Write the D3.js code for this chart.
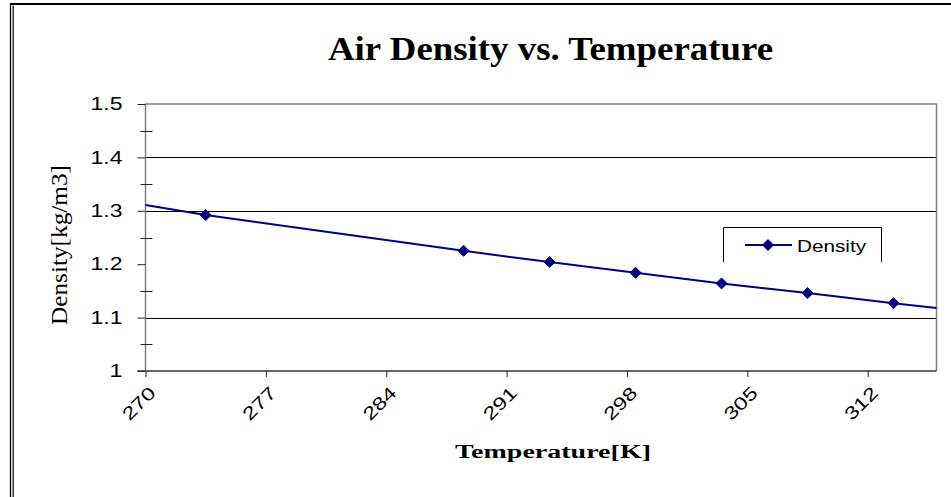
<!DOCTYPE html>
<html lang="en">
<head>
    <meta charset="UTF-8">
    <title>Air Density vs. Temperature</title>
    <script src="https://cdn.jsdelivr.net/npm/d3@7"></script>
    <style>
        body { margin: 0; background: #fff; }
        svg { display: block; }
    </style>
</head>
<body>
<script>

    // Data ////////////////////////////////////
    var temperature = [273.5, 288.5, 293.5, 298.5, 303.5, 308.5, 313.5];
    var density = [1.292, 1.225, 1.204, 1.184, 1.164, 1.146, 1.127];
    // line runs on to both edges of the plot
    var lineEdgeTemp = [270, 316];
    var lineEdgeDensity = [1.311, 1.118];

    var xTicks = [270, 277, 284, 291, 298, 305, 312];
    var yTicks = [1, 1.1, 1.2, 1.3, 1.4, 1.5];
    var yMinorTicks = [1.05, 1.15, 1.25, 1.35, 1.45];
    var gridValues = [1.1, 1.3, 1.4];

    var width = 951;
    var height = 497;
    var plot = {left: 145.5, right: 936.5, top: 104, bottom: 371};
    var navy = '#000080';

    var svg = d3.select('body').append('svg')
            .attr('width', width).attr('height', height);

    // Scales
    var x = d3.scaleLinear().domain([270, 316]).range([plot.left, plot.right]);
    var y = d3.scaleLinear().domain([1, 1.5]).range([plot.bottom, plot.top]);

    // outer frame
    svg.append('line').attr('x1', 10).attr('x2', width).attr('y1', 4).attr('y2', 4)
            .style('stroke', '#000').style('stroke-width', 2);
    svg.append('line').attr('x1', 10.5).attr('x2', 10.5).attr('y1', 3).attr('y2', height)
            .style('stroke', '#000').style('stroke-width', 1.3);
    svg.append('line').attr('x1', 13.2).attr('x2', 13.2).attr('y1', 5.5).attr('y2', height)
            .style('stroke', '#000').style('stroke-width', 1.2);

    // Title
    svg.append('text')
            .attr('x', 550.5).attr('y', 60)
            .attr('text-anchor', 'middle')
            .attr('textLength', 445).attr('lengthAdjust', 'spacingAndGlyphs')
            .style('font-family', '"Liberation Serif", "Times New Roman", serif')
            .style('font-weight', 'bold').style('font-size', '34px')
            .text('Air Density vs. Temperature');

    // Gridlines
    svg.append('g').selectAll('line.grid')
            .data(gridValues).enter().append('line')
            .attr('class', 'grid')
            .attr('x1', plot.left).attr('x2', plot.right)
            .attr('y1', function (d) { return Math.round(y(d)) + 0.5; })
            .attr('y2', function (d) { return Math.round(y(d)) + 0.5; })
            .style('stroke', '#000').style('stroke-width', 1);

    // Plot border
    svg.append('path')
            .attr('d', 'M' + plot.left + ',' + plot.bottom + 'V' + plot.top + 'H' + plot.right + 'V' + plot.bottom)
            .style('fill', 'none').style('stroke', '#808080').style('stroke-width', 1.5);

    function digitWidth(s) {
        return s.length * 13 - (s.split('.').length - 1) * 7;
    }

    // Y axis
    var yAxis = d3.axisLeft(y).tickValues(yTicks).tickSize(8).tickPadding(12)
            .tickFormat(d3.format('~g'));
    var yAxisG = svg.append('g')
            .attr('transform', 'translate(' + plot.left + ',0)')
            .call(yAxis);
    yAxisG.select('.domain').remove();
    yAxisG.selectAll('.tick line').style('stroke', '#222');
    yAxisG.selectAll('.tick text')
            .attr('x', -23)
            .attr('textLength', function (d) { return digitWidth(d3.format('~g')(d)); })
            .attr('lengthAdjust', 'spacingAndGlyphs')
            .style('font-family', '"Liberation Sans", Arial, sans-serif')
            .style('font-size', '18px').style('fill', '#000');

    // minor ticks cross the axis
    svg.append('g').selectAll('line.minor')
            .data(yMinorTicks).enter().append('line')
            .attr('class', 'minor')
            .attr('x1', plot.left - 5).attr('x2', plot.left + 7)
            .attr('y1', function (d) { return Math.round(y(d)) + 0.5; })
            .attr('y2', function (d) { return Math.round(y(d)) + 0.5; })
            .style('stroke', '#222');

    // X axis
    var xAxis = d3.axisBottom(x).tickValues(xTicks).tickSize(6).tickFormat(d3.format('d'));
    var xAxisG = svg.append('g')
            .attr('transform', 'translate(0,' + plot.bottom + ')')
            .call(xAxis);
    xAxisG.select('.domain')
            .attr('d', 'M' + (plot.left - 8) + ',0H' + plot.right)
            .style('stroke', '#333').style('stroke-width', 1.5);
    xAxisG.selectAll('.tick line').style('stroke', '#222');
    xAxisG.selectAll('.tick text')
            .attr('y', 0).attr('dy', 0)
            .attr('text-anchor', 'end')
            .attr('transform', 'translate(11,23) rotate(-45)')
            .attr('textLength', function (d) { return digitWidth(String(d)); })
            .attr('lengthAdjust', 'spacingAndGlyphs')
            .style('font-family', '"Liberation Sans", Arial, sans-serif')
            .style('font-size', '18px').style('fill', '#000');

    // Axis titles
    svg.append('text')
            .attr('transform', 'translate(67,245) rotate(-90)')
            .attr('text-anchor', 'middle')
            .attr('textLength', 160).attr('lengthAdjust', 'spacingAndGlyphs')
            .style('font-family', '"Liberation Serif", "Times New Roman", serif')
            .style('font-size', '24px')
            .text('Density[kg/m3]');

    svg.append('text')
            .attr('x', 553).attr('y', 458)
            .attr('text-anchor', 'middle')
            .attr('textLength', 196).attr('lengthAdjust', 'spacingAndGlyphs')
            .style('font-family', '"Liberation Serif", "Times New Roman", serif')
            .style('font-weight', 'bold').style('font-size', '18px')
            .text('Temperature[K]');

    // Series line
    var linePoints = [[lineEdgeTemp[0], lineEdgeDensity[0]]]
            .concat(temperature.map(function (t, i) { return [t, density[i]]; }))
            .concat([[lineEdgeTemp[1], lineEdgeDensity[1]]]);

    var line = d3.line()
            .x(function (d) { return x(d[0]); })
            .y(function (d) { return y(d[1]); });

    svg.append('path')
            .datum(linePoints)
            .attr('d', line)
            .style('fill', 'none').style('stroke', navy).style('stroke-width', 2);

    var diamond = 'M0,-5.5L5.5,0L0,5.5L-5.5,0Z';

    svg.append('g').selectAll('path.marker')
            .data(temperature).enter().append('path')
            .attr('class', 'marker')
            .attr('d', diamond)
            .attr('transform', function (d, i) {
                return 'translate(' + x(d) + ',' + y(density[i]) + ')';
            })
            .style('fill', navy).style('stroke', navy);

    // Legend (bottom edge is open in the original)
    var legend = svg.append('g').attr('class', 'legend');
    legend.append('rect')
            .attr('x', 723).attr('y', 227).attr('width', 159).attr('height', 35)
            .style('fill', '#fff');
    legend.append('path')
            .attr('d', 'M723.5,262V227.5H881.5V262')
            .style('fill', 'none').style('stroke', '#000').style('stroke-width', 1);
    legend.append('line')
            .attr('x1', 745).attr('x2', 792).attr('y1', 245).attr('y2', 245)
            .style('stroke', navy).style('stroke-width', 2);
    legend.append('path')
            .attr('d', diamond)
            .attr('transform', 'translate(768,245)')
            .style('fill', navy).style('stroke', navy);
    legend.append('text')
            .attr('x', 797).attr('y', 252)
            .attr('textLength', 69).attr('lengthAdjust', 'spacingAndGlyphs')
            .style('font-family', '"Liberation Sans", Arial, sans-serif')
            .style('font-size', '17px')
            .text('Density');

</script>
</body>
</html>
